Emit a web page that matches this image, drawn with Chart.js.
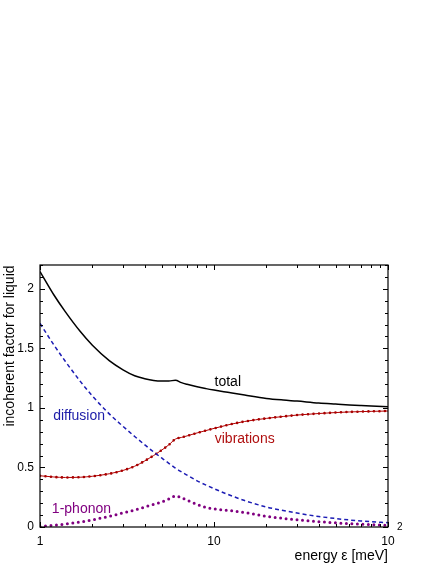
<!DOCTYPE html>
<html>
<head>
<meta charset="utf-8">
<script src="https://cdn.jsdelivr.net/npm/chart.js@4/dist/chart.umd.min.js"></script>
<style>
  html, body { margin: 0; padding: 0; background: #fff; }
  canvas { display: block; }
</style>
</head>
<body>
<canvas id="chart" width="436" height="564"></canvas>
<script>
// energy grid in meV, shared by all curves
const energies = [1, 1.2, 1.4, 1.7, 2, 2.5, 3, 3.5, 4, 4.5, 5, 5.5, 6, 6.5, 7, 8, 9, 10, 12, 15, 20, 25, 30, 40, 50, 60, 70, 80, 100];

const totalFactor = [2.145, 1.95, 1.806, 1.643, 1.526, 1.397, 1.32, 1.27, 1.245, 1.23, 1.225, 1.225, 1.233, 1.212, 1.198, 1.177, 1.162, 1.15, 1.131, 1.108, 1.08, 1.066, 1.057, 1.041, 1.032, 1.025, 1.02, 1.016, 1.01];
const diffusion = [1.71, 1.53, 1.39, 1.225, 1.10, 0.95, 0.845, 0.76, 0.69, 0.63, 0.58, 0.535, 0.495, 0.463, 0.435, 0.388, 0.352, 0.322, 0.274, 0.222, 0.168, 0.138, 0.117, 0.088, 0.071, 0.059, 0.051, 0.045, 0.036];
const vibrations = [0.43, 0.42, 0.416, 0.418, 0.426, 0.447, 0.475, 0.51, 0.555, 0.60, 0.645, 0.69, 0.738, 0.752, 0.765, 0.79, 0.81, 0.828, 0.857, 0.886, 0.912, 0.928, 0.94, 0.953, 0.961, 0.966, 0.969, 0.971, 0.974];
const onePhonon = [0.005, 0.015, 0.025, 0.042, 0.06, 0.09, 0.118, 0.142, 0.168, 0.19, 0.21, 0.235, 0.26, 0.245, 0.225, 0.19, 0.165, 0.152, 0.14, 0.122, 0.09, 0.072, 0.06, 0.045, 0.035, 0.028, 0.023, 0.019, 0.014];

const yTicks = [0, 0.5, 1, 1.5, 2];
const yTickLabels = ['0', '0.5', '1', '1.5', '2'];
const xDecades = [1, 10, 100];

const FONT = '"Liberation Sans", Arial, sans-serif';

function pts(ys) {
  return energies.map(function (e, i) { return { x: e, y: ys[i] }; });
}

// curve labels, placed in data coordinates
const curveLabels = [
  { text: 'total', x: 12.0, y: 1.22, color: '#000000', align: 'center' },
  { text: 'diffusion', x: 1.19, y: 0.93, color: '#1c1ca8', align: 'left' },
  { text: 'vibrations', x: 10.1, y: 0.74, color: '#b01010', align: 'left' },
  { text: '1-phonon', x: 1.17, y: 0.15, color: '#800080', align: 'left' }
];

const framePlugin = {
  id: 'frame',
  afterDatasetsDraw: function (chart) {
    var ctx = chart.ctx;
    var a = chart.chartArea;
    var xs = chart.scales.x, ys = chart.scales.y;
    ctx.save();
    ctx.strokeStyle = '#000';
    ctx.lineWidth = 1.2;
    ctx.strokeRect(a.left, a.top, a.right - a.left, a.bottom - a.top);

    // y ticks, inward on both sides
    ctx.lineWidth = 1;
    for (var i = 0; i <= 22; i++) {
      var v = i / 10;
      var py = Math.round(ys.getPixelForValue(v)) + 0.5;
      var len = (i % 5 === 0) ? 5 : 3;
      ctx.beginPath();
      ctx.moveTo(a.left, py); ctx.lineTo(a.left + len, py);
      ctx.moveTo(a.right, py); ctx.lineTo(a.right - len, py);
      ctx.stroke();
    }
    // x ticks (log), inward top and bottom
    xDecades.forEach(function (d) {
      for (var k = 1; k <= 9; k++) {
        var v = d * k;
        if (v > 100) break;
        var px = Math.round(xs.getPixelForValue(v)) + 0.5;
        var len = (k === 1) ? 5 : 3;
        ctx.beginPath();
        ctx.moveTo(px, a.bottom); ctx.lineTo(px, a.bottom - len);
        ctx.moveTo(px, a.top); ctx.lineTo(px, a.top + len);
        ctx.stroke();
      }
    });

    // tick labels
    ctx.fillStyle = '#000';
    ctx.font = '12px ' + FONT;
    ctx.textAlign = 'right';
    ctx.textBaseline = 'middle';
    yTicks.forEach(function (v, i) {
      ctx.fillText(yTickLabels[i], a.left - 6, ys.getPixelForValue(v));
    });
    ctx.textAlign = 'center';
    ctx.fillText('1', xs.getPixelForValue(1), a.bottom + 15);
    ctx.fillText('10', xs.getPixelForValue(10), a.bottom + 15);
    var p100 = xs.getPixelForValue(100);
    ctx.fillText('10', p100, a.bottom + 15);
    ctx.font = '10px ' + FONT;
    ctx.textAlign = 'left';
    ctx.fillText('2', p100 + 9, a.bottom);

    // axis titles
    ctx.font = '14px ' + FONT;
    ctx.textAlign = 'right';
    ctx.fillText('energy \u03b5 [meV]', a.right, a.bottom + 29);
    ctx.save();
    ctx.translate(10, 346);
    ctx.rotate(-Math.PI / 2);
    ctx.textAlign = 'center';
    ctx.fillText('incoherent factor for liquid', 0, 0);
    ctx.restore();

    // curve labels
    curveLabels.forEach(function (l) {
      ctx.fillStyle = l.color;
      ctx.textAlign = l.align;
      ctx.fillText(l.text, xs.getPixelForValue(l.x), ys.getPixelForValue(l.y));
    });
    ctx.restore();
  }
};

new Chart(document.getElementById('chart'), {
  type: 'line',
  data: {
    datasets: [
      {
        label: 'total', data: pts(totalFactor),
        borderColor: '#000', borderWidth: 1.5, pointRadius: 0,
        cubicInterpolationMode: 'monotone'
      },
      {
        label: 'diffusion', data: pts(diffusion),
        borderColor: '#1c1cb4', borderWidth: 1.5, borderDash: [4, 3], pointRadius: 0,
        cubicInterpolationMode: 'monotone'
      },
      {
        label: 'vibrations', data: pts(vibrations),
        borderColor: '#b00000', borderWidth: 1, pointRadius: 0,
        cubicInterpolationMode: 'monotone'
      },
      {
        label: 'vibrations-dots', data: pts(vibrations),
        borderColor: '#a00000', borderWidth: 2.6, borderDash: [0, 5.5],
        borderCapStyle: 'round', pointRadius: 0,
        cubicInterpolationMode: 'monotone'
      },
      {
        label: '1-phonon', data: pts(onePhonon),
        borderColor: '#800080', borderWidth: 3, borderDash: [0, 5.5],
        borderCapStyle: 'round', pointRadius: 0,
        cubicInterpolationMode: 'monotone'
      }
    ]
  },
  options: {
    responsive: false,
    animation: false,
    layout: { padding: { left: 40, top: 265, right: 48, bottom: 37 } },
    plugins: { legend: { display: false }, tooltip: { enabled: false } },
    scales: {
      x: { type: 'logarithmic', min: 1, max: 100, display: false },
      y: { type: 'linear', min: 0, max: 2.2, display: false }
    }
  },
  plugins: [framePlugin]
});
</script>
</body>
</html>
